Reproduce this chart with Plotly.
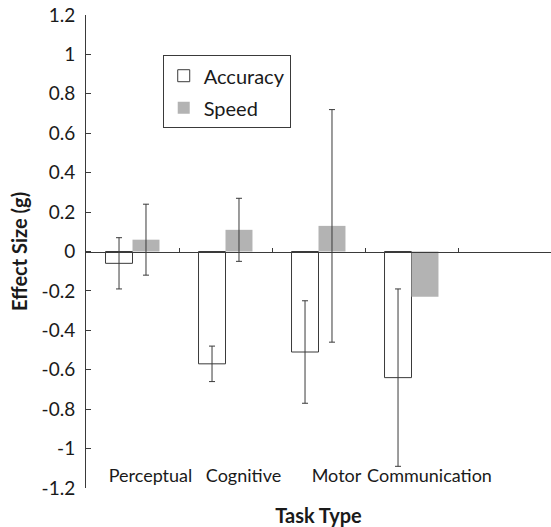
import plotly.graph_objects as go

categories = ["Perceptual", "Cognitive", "Motor", "Communication"]
accuracy = [-0.06, -0.57, -0.51, -0.64]
accuracy_err = [0.13, 0.09, 0.26, 0.45]
speed = [0.06, 0.11, 0.13, -0.23]
speed_err = [0.18, 0.16, 0.59, None]
y_ticks = [1.2, 1, 0.8, 0.6, 0.4, 0.2, 0, -0.2, -0.4, -0.6, -0.8, -1, -1.2]
y_tick_text = ["1.2", "1", "0.8", "0.6", "0.4", "0.2", "0", "-0.2", "-0.4", "-0.6", "-0.8", "-1", "-1.2"]

xpos = list(range(len(categories)))
FONT = "Lato"
DARK = "#3a3a3a"

# missing error values -> NaN string so plotly.js skips them
speed_err_js = [e if e is not None else "NaN" for e in speed_err]

fig = go.Figure()
fig.add_trace(go.Bar(
    x=xpos, y=accuracy, name="Accuracy",
    marker=dict(color="white", line=dict(color=DARK, width=1)),
    width=0.29, offset=-0.29,
    error_y=dict(type="data", array=accuracy_err, color=DARK, thickness=1, width=3),
    legendgroup="a",
))
fig.add_trace(go.Bar(
    x=xpos, y=speed, name="Speed", xaxis="x2",
    marker=dict(color="#b3b3b3", line=dict(width=0)),
    width=0.29, offset=0,
    error_y=dict(type="data", array=speed_err_js, color=DARK, thickness=1, width=3),
    legendgroup="b",
))

fig.update_layout(
    width=551, height=527,
    margin=dict(l=86, r=0, t=15, b=39),
    paper_bgcolor="white", plot_bgcolor="white",
    font=dict(family=FONT, size=19, color="#1a1a1a"),
    showlegend=True,
    legend=dict(
        x=0.165, y=0.915, xanchor="left", yanchor="top",
        bordercolor=DARK, borderwidth=1, bgcolor="white",
        font=dict(size=20), tracegroupgap=3, traceorder="grouped",
        itemwidth=30,
    ),
    xaxis=dict(
        range=[-0.5, 4.5], tickmode="array", tickvals=xpos, ticktext=categories,
        showline=False, showgrid=False, zeroline=False, ticks="", ticklen=0,
        anchor="free", position=0.053, tickangle=0, automargin=False,
        ticklabelshift=18,
        tickfont=dict(size=18),
        title=dict(text="<b>Task Type</b>", font=dict(size=20), standoff=33),
    ),
    xaxis2=dict(
        overlaying="x", matches="x", anchor="free", position=0.5, side="top",
        range=[-0.5, 4.5], tickmode="array", tickvals=[0.5, 1.5, 2.5, 3.5],
        showticklabels=False, ticks="outside", ticklen=4, tickcolor=DARK,
        showline=True, linecolor=DARK, linewidth=1, showgrid=False, zeroline=False,
        automargin=False,
    ),
    yaxis=dict(
        range=[-1.2, 1.2], tickmode="array", tickvals=y_ticks, ticktext=y_tick_text,
        showline=True, linecolor=DARK, linewidth=1, ticks="inside", ticklen=5,
        tickcolor=DARK, showgrid=False, zeroline=False, automargin=False,
        tickfont=dict(size=19), ticklabelstandoff=6,
        title=dict(text="<b>Effect Size (g)</b>", font=dict(size=20), standoff=8),
    ),
)

fig.write_html("out.html")
